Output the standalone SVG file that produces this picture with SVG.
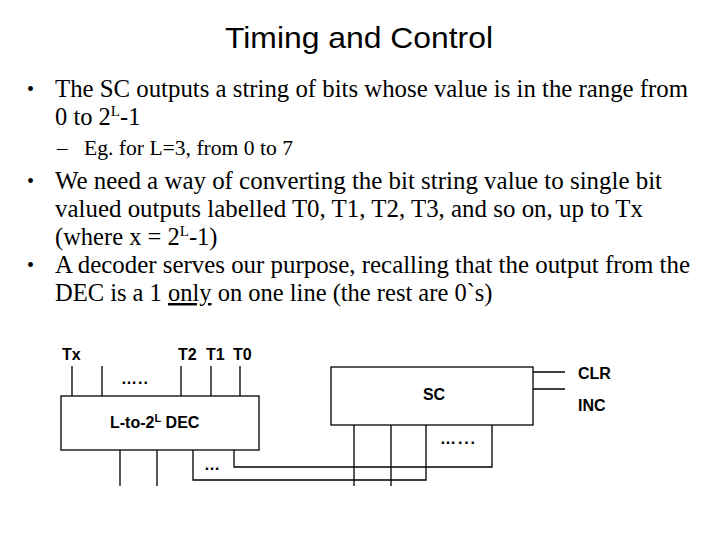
<svg xmlns="http://www.w3.org/2000/svg" width="720" height="540" viewBox="0 0 720 540">
<style>
.title{font-family:"Liberation Sans",Arial,sans-serif;font-size:30px;fill:#000}
.body{font-family:"Liberation Serif","Times New Roman",serif;font-size:24.5px;fill:#000}
.sub{font-family:"Liberation Serif","Times New Roman",serif;font-size:21px;fill:#000}
.bul{font-family:"Liberation Serif","Times New Roman",serif;font-size:20px;fill:#000}
.lbl{font-family:"Liberation Sans",Arial,sans-serif;font-size:16px;font-weight:bold;fill:#000}
.box{fill:#fff;stroke:#000;stroke-width:1.3}
.wire{fill:none;stroke:#000;stroke-width:1.3}
</style>
<rect width="720" height="540" fill="#fff"/>
<text class="title" x="225" y="48" textLength="268" lengthAdjust="spacingAndGlyphs">Timing and Control</text>
<g id="bullets">
<text class="bul" x="27" y="96">•</text>
<text class="body" x="55" y="97" textLength="633" lengthAdjust="spacingAndGlyphs">The SC outputs a string of bits whose value is in the range from</text>
<text class="body" x="55" y="125">0 to 2<tspan font-size="15" dy="-9">L</tspan><tspan dy="9">-1</tspan></text>
<text class="sub" x="57" y="155">–</text>
<text class="sub" x="84" y="155" textLength="209" lengthAdjust="spacingAndGlyphs">Eg. for L=3, from 0 to 7</text>
<text class="bul" x="27" y="188">•</text>
<text class="body" x="55" y="189" textLength="607" lengthAdjust="spacingAndGlyphs">We need a way of converting the bit string value to single bit</text>
<text class="body" x="55" y="217" textLength="588" lengthAdjust="spacingAndGlyphs">valued outputs labelled T0, T1, T2, T3, and so on, up to Tx</text>
<text class="body" x="55" y="245">(where x = 2<tspan font-size="15" dy="-9">L</tspan><tspan dy="9">-1)</tspan></text>
<text class="bul" x="27" y="272">•</text>
<text class="body" x="55" y="273" textLength="635" lengthAdjust="spacingAndGlyphs">A decoder serves our purpose, recalling that the output from the</text>
<text class="body" x="55" y="301">DEC is a 1 <tspan text-decoration="underline">only</tspan> on one line (the rest are 0`s)</text>
</g>
<g id="connectors">
<path class="wire" d="M72,366V396M102,366V396M181,366V396M211,366V396M240,366V396"/>
<path class="wire" d="M120,450V486M157,450V486"/>
<path class="wire" d="M193,450V480H426V425"/>
<path class="wire" d="M234,450V467H492V425"/>
<path class="wire" d="M354,425V486M391,425V486"/>
<path class="wire" d="M533,372H565M533,389H565"/>
</g>
<g id="dec">
<rect class="box" x="61" y="396" width="198" height="54"/>
<text class="lbl" x="110" y="428">L-to-2<tspan font-size="11" dy="-6">L</tspan><tspan dy="6"> DEC</tspan></text>
</g>
<g id="sc">
<rect class="box" x="331" y="367" width="202" height="58"/>
<text class="lbl" x="434" y="400" text-anchor="middle">SC</text>
</g>
<g id="labels">
<text class="lbl" x="62" y="360">Tx</text>
<text class="lbl" x="178" y="360">T2</text>
<text class="lbl" x="206" y="360">T1</text>
<text class="lbl" x="233" y="360">T0</text>
<text class="lbl" x="121" y="384" textLength="27" lengthAdjust="spacing">…..</text>
<text class="lbl" x="440" y="444" textLength="35" lengthAdjust="spacing">…...</text>
<text class="lbl" x="204" y="470">…</text>
<text class="lbl" x="578" y="379">CLR</text>
<text class="lbl" x="578" y="411">INC</text>
</g>
</svg>
